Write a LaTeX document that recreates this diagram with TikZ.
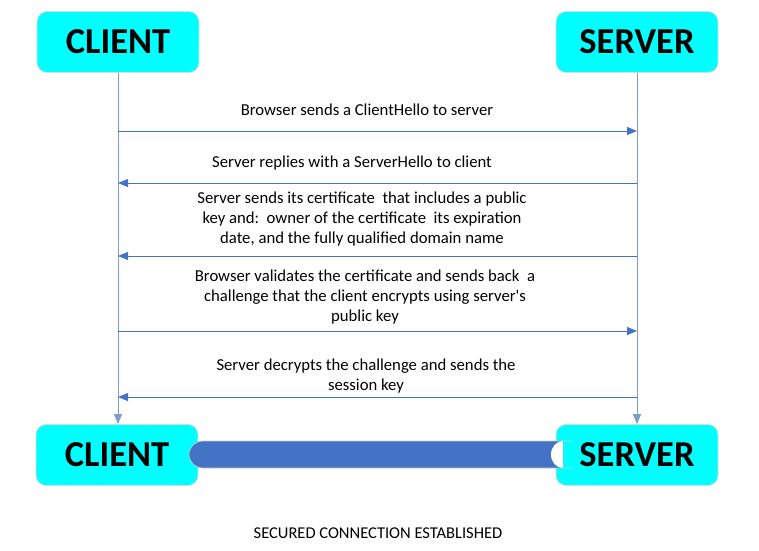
\documentclass[tikz,border=0pt]{standalone}
\usepackage{fontspec}
\setmainfont{Carlito}[Ligatures=TeXOff]
\usetikzlibrary{arrows.meta}
\definecolor{boxcyan}{HTML}{00FFFF}
\definecolor{msgblue}{HTML}{4472C4}
\definecolor{lifeblue}{HTML}{7F9CD0}
\definecolor{tubeblue}{HTML}{4472C4}
\tikzset{
  party/.style={draw=black!15, line width=0.8pt, fill=boxcyan, rounded corners=10pt,
    minimum width=162pt, minimum height=61pt, font=\fontsize{36.5}{36}\selectfont\bfseries, inner sep=0pt},
  msg/.style={draw=msgblue, line width=0.9pt, -{Triangle[length=10pt,width=8pt]}},
  life/.style={draw=lifeblue, line width=0.9pt, -{Triangle[length=10pt,width=8pt]}},
  lbl/.style={font=\fontsize{16.7}{20}\selectfont, align=center, inner sep=0pt},
}
\begin{document}
\begin{tikzpicture}[x=1pt,y=-1pt]
\useasboundingbox (0,0) rectangle (759,550);
% parties
\node[party] (c1) at (118,42) {CLIENT};
\node[party] (s1) at (637,42) {SERVER};
\node[party] (c2) at (117,455) {CLIENT};
\node[party] (s2) at (637,455) {SERVER};
% lifelines
\draw[life] (c1.south) -- (c2.north -| c1.south);
\draw[life] (s1.south) -- (s2.north -| s1.south);
% message end points
\coordinate (a1c) at (118,131); \coordinate (a1s) at (637,131);
\coordinate (a2c) at (118,183); \coordinate (a2s) at (637,183);
\coordinate (a3c) at (118,256); \coordinate (a3s) at (637,256);
\coordinate (a4c) at (118,331); \coordinate (a4s) at (637,331);
\coordinate (a5c) at (118,397); \coordinate (a5s) at (637,397);
\draw[msg] (a1c) -- (a1s);
\draw[msg] (a2s) -- (a2c);
\draw[msg] (a3s) -- (a3c);
\draw[msg] (a4c) -- (a4s);
\draw[msg] (a5s) -- (a5c);
% labels
\node[lbl] (t1) at (367,110) {Browser sends a ClientHello to server};
\node[lbl] (t2) at (352,163) {Server replies with a ServerHello to client};
\node[lbl] (t3) at (362,219) {Server sends its certificate\ \ that includes a public\\key and:\ \ owner of the certificate\ \ its expiration\\date, and the fully qualified domain name};
\node[lbl] (t4) at (365,297) {Browser validates the certificate and sends back\ \ a\\challenge that the client encrypts using server's\\public key};
\node[lbl] (t5) at (366,376) {Server decrypts the challenge and sends the\\session key};
% secure tube
\fill[tubeblue] (563,441) -- (203,441) arc[start angle=270,end angle=90,x radius=14,y radius=13.5] -- (563,468) -- cycle;
\draw[black!20, line width=0.6pt] (572,441) -- (203,441) arc[start angle=270,end angle=90,x radius=14,y radius=13.5] -- (572,468);
\fill[white] (563,441) arc[start angle=270,end angle=90,x radius=12,y radius=13.5] -- cycle;
\node[font=\fontsize{16.5}{18}\selectfont, inner sep=0pt] (t6) at (378,533) {SECURED CONNECTION ESTABLISHED};
\end{tikzpicture}
\end{document}
